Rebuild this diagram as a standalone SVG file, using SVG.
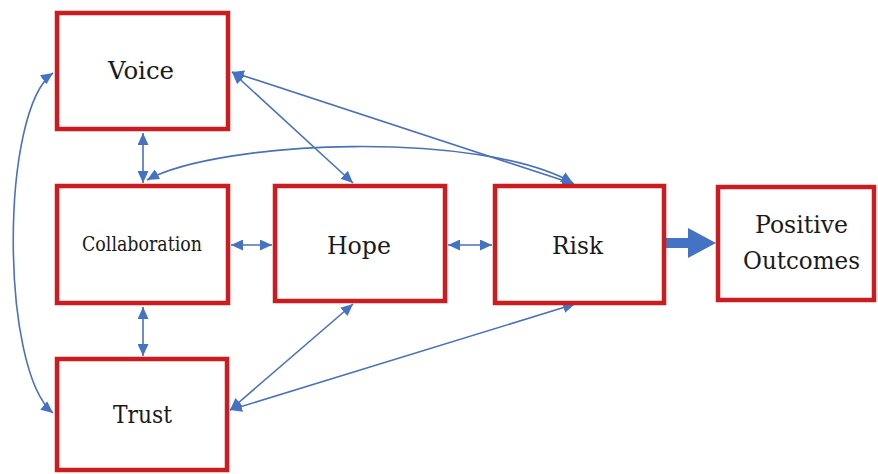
<svg xmlns="http://www.w3.org/2000/svg" width="878" height="474" viewBox="0 0 878 474">
<style>
.box{fill:#fff;stroke:#cc1c1f;stroke-width:4.5}
.lbl{font-family:"DejaVu Serif","Liberation Serif",serif;font-size:25px;fill:#1a1a1a}
.small{font-size:21px}
.con{fill:none;stroke:#4a72b8;stroke-width:1.6;marker-start:url(#ah);marker-end:url(#ah)}
</style>
<defs>
<marker id="ah" markerUnits="userSpaceOnUse" markerWidth="12" markerHeight="11" refX="12" refY="5.5" orient="auto-start-reverse">
<path d="M0,0 L12,5.5 L0,11 z" fill="#4472c4"/>
</marker>
</defs>
<rect width="878" height="474" fill="#fff"/>
<g id="connectors">
<path class="con" d="M53,73 C0,110 0,370 53,413"/>
<path class="con" d="M143,133 L143,183"/>
<path class="con" d="M143,307 L143,356"/>
<path class="con" d="M231,245 L272,245"/>
<path class="con" d="M448,245 L492,245"/>
<path class="con" d="M232,72 L353,183"/>
<path class="con" d="M232,72 L574,184"/>
<path class="con" d="M147,180 C220,140 480,130 573,183"/>
<path class="con" d="M230,410 L353,304"/>
<path class="con" d="M230,410 L575,304"/>
<polygon id="thick" points="666,238 688,238 688,228 716,243 688,258 688,248 666,248" fill="#4472c4"/>
</g>
<g id="voice"><rect class="box" x="57" y="13" width="171" height="116"/><text class="lbl" x="108" y="79" textLength="66" lengthAdjust="spacingAndGlyphs">Voice</text></g>
<g id="collaboration"><rect class="box" x="57" y="186" width="171" height="117"/><text class="lbl small" x="82" y="251" textLength="120" lengthAdjust="spacingAndGlyphs">Collaboration</text></g>
<g id="hope"><rect class="box" x="275" y="186" width="170" height="115"/><text class="lbl" x="327" y="254" textLength="64" lengthAdjust="spacingAndGlyphs">Hope</text></g>
<g id="risk"><rect class="box" x="495" y="186" width="169" height="117"/><text class="lbl" x="552" y="254" textLength="51" lengthAdjust="spacingAndGlyphs">Risk</text></g>
<g id="positive-outcomes"><rect class="box" x="718" y="187" width="156" height="113"/><text class="lbl" x="755" y="233" textLength="93" lengthAdjust="spacingAndGlyphs">Positive</text><text class="lbl" x="743" y="269" textLength="117" lengthAdjust="spacingAndGlyphs">Outcomes</text></g>
<g id="trust"><rect class="box" x="57" y="359" width="170" height="111"/><text class="lbl" x="113" y="423" textLength="59" lengthAdjust="spacingAndGlyphs">Trust</text></g>
</svg>
